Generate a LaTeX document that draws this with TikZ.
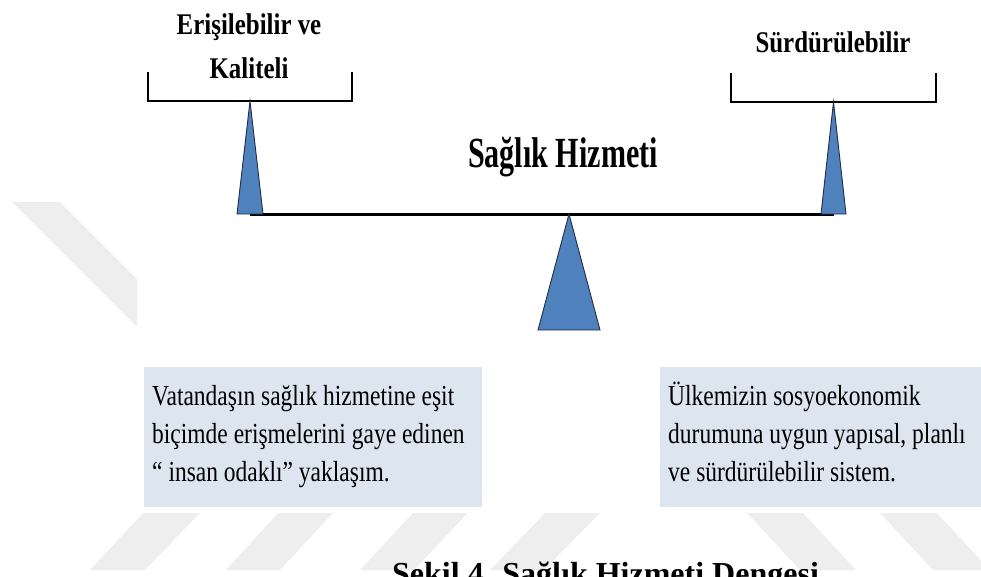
\documentclass[tikz,border=0pt]{standalone}
\usepackage{fontspec}
\setmainfont{Liberation Serif}
\newfontfamily\boxfont[FakeStretch=0.81]{Liberation Serif}
\newfontfamily\headfont[FakeStretch=0.83]{Liberation Serif}
\newfontfamily\titlefont[FakeStretch=0.70]{Liberation Serif}
\definecolor{boxblue}{RGB}{220,229,240}
\definecolor{triblue}{RGB}{79,129,189}
\definecolor{tridark}{RGB}{35,45,70}
\definecolor{wmgray}{RGB}{238,238,238}
\tikzset{
  wmark/.style={fill=wmgray},
  bracketline/.style={draw=black,line width=2.6pt},
  beamline/.style={draw=black,line width=3pt},
  tri/.style={fill=triblue,draw=tridark,line width=0.9pt,line join=miter},
  headlbl/.style={inner sep=0pt,anchor=base,font=\headfont\bfseries\fontsize{30}{36}\selectfont},
  titlelbl/.style={inner sep=0pt,anchor=base,font=\titlefont\bfseries\fontsize{43}{50}\selectfont},
  infobox/.style={fill=boxblue,anchor=north west,inner sep=0pt,minimum height=140pt},
  infotext/.style={inner sep=0pt,anchor=base west,align=left,font=\boxfont\fontsize{29}{38}\selectfont},
  caplbl/.style={inner sep=0pt,anchor=base west,font=\bfseries\fontsize{32}{38}\selectfont}
}
\begin{document}
\begin{tikzpicture}[x=1pt,y=-1pt]
\useasboundingbox (0,0) rectangle (981,576);
\clip (0,0) rectangle (981,576);
% watermark stripes
\fill[wmark] (12,202) -- (60,202) -- (137,279) -- (137,327) -- cycle;
\fill[wmark] (143,513) -- (200,513) -- (145,570) -- (90,570) -- cycle;
\fill[wmark] (278,513) -- (333,513) -- (280,570) -- (226,570) -- cycle;
\fill[wmark] (413,513) -- (468,513) -- (414,570) -- (360,570) -- cycle;
\fill[wmark] (545,513) -- (600,513) -- (544,570) -- (490,570) -- cycle;
\fill[wmark] (747,513) -- (803,513) -- (856,570) -- (800,570) -- cycle;
\fill[wmark] (880,513) -- (937,513) -- (990,570) -- (933,570) -- cycle;
% coordinates
\coordinate (lapex) at (250,101);
\coordinate (rapex) at (833.5,102);
\coordinate (lbase) at (250,214);
\coordinate (rbase) at (833.5,214);
\coordinate (fapex) at (569,214);
% brackets
\draw[bracketline] (148,72) -- (148,101) -- (352,101) -- (352,72);
\draw[bracketline] (731,73) -- (731,102) -- (936,102) -- (936,73);
% beam
\draw[beamline] (lbase) -- (rbase);
% pointer triangles
\draw[tri] (lapex) -- ([xshift=13pt]lbase) -- ([xshift=-13pt]lbase) -- cycle;
\draw[tri] (rapex) -- ([xshift=12.5pt]rbase) -- ([xshift=-12.5pt]rbase) -- cycle;
% fulcrum
\draw[tri] (fapex) -- (600,330) -- (538,330) -- cycle;
% labels
\node[headlbl] (lab1) at (249,34) {Erişilebilir ve};
\node[headlbl] (lab2) at (249,78) {Kaliteli};
\node[headlbl] (lab3) at (833,52) {Sürdürülebilir};
\node[titlelbl] (title) at (563,167) {Sağlık Hizmeti};
% boxes
\node[infobox,minimum width=338pt] (lbox) at (144,367) {};
\node[infobox,minimum width=330pt] (rbox) at (660,367) {};
\node[infotext] (ltext) at (152,481)
  {Vatandaşın sağlık hizmetine eşit\\biçimde erişmelerini gaye edinen\\“ insan odaklı” yaklaşım.};
\node[infotext] (rtext) at (668,481)
  {Ülkemizin sosyoekonomik\\durumuna uygun yapısal, planlı\\ve sürdürülebilir sistem.};
% caption (cut off at the bottom edge, as in the reference)
\node[caplbl] (cap) at (392,584) {Şekil 4. Sağlık Hizmeti Dengesi};
\end{tikzpicture}
\end{document}
